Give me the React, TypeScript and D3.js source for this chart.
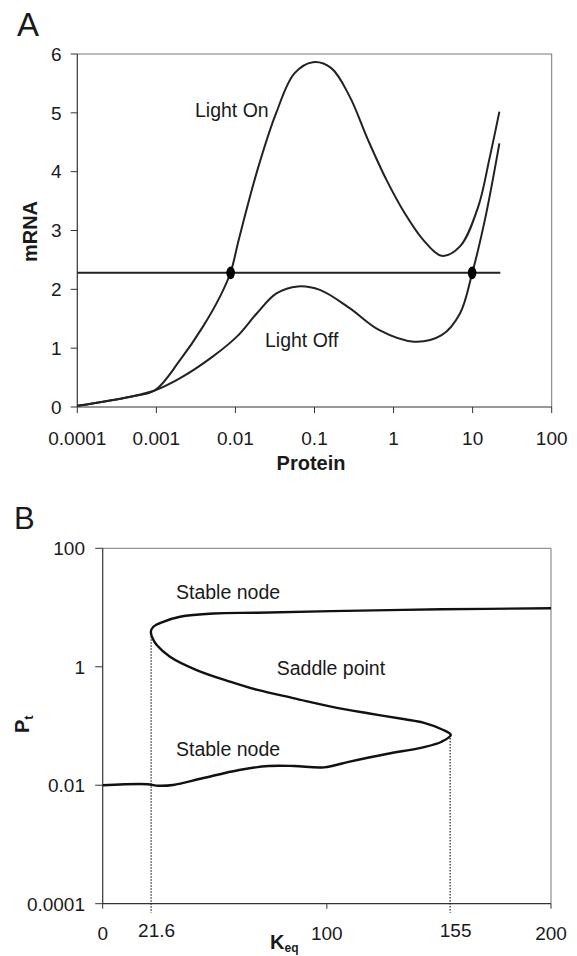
import * as d3 from 'd3'

// Panel A: mRNA vs protein nullclines (log x axis)
const sharedStart: [number, number][] = [
  [0.0001, 0.02],
  [0.00047, 0.175],
  [0.00095, 0.28],
]
const lightOn: [number, number][] = [
  ...sharedStart,
  [0.002, 0.8],
  [0.0039, 1.37],
  [0.0064, 1.88],
  [0.0087, 2.29],
  [0.011, 2.84],
  [0.019, 4.03],
  [0.0326, 4.99],
  [0.0557, 5.67],
  [0.0955, 5.86],
  [0.163, 5.76],
  [0.278, 5.28],
  [0.475, 4.54],
  [0.813, 3.86],
  [1.39, 3.29],
  [2.37, 2.84],
  [4.05, 2.57],
  [6.92, 2.73],
  [11.8, 3.41],
  [16.2, 4.2],
  [21.8, 5.02],
]
const lightOff: [number, number][] = [
  ...sharedStart,
  [0.002, 0.49],
  [0.0052, 0.86],
  [0.0105, 1.2],
  [0.0186, 1.59],
  [0.033, 1.93],
  [0.0617, 2.05],
  [0.117, 1.99],
  [0.278, 1.68],
  [0.653, 1.31],
  [1.82, 1.11],
  [4.05, 1.22],
  [6.92, 1.59],
  [9.85, 2.27],
  [14.6, 3.24],
  [21.8, 4.48],
]
const thresholdMrna = 2.28
const thresholdRange = [0.0001, 22.4]
const steadyStates = [0.0087, 9.85]
const proteinTicks = [0.0001, 0.001, 0.01, 0.1, 1, 10, 100]
const proteinTickLabels = ['0.0001', '0.001', '0.01', '0.1', '1', '10', '100']
const mrnaTicks = [0, 1, 2, 3, 4, 5, 6]

// Panel B: bifurcation diagram, Pt vs Keq (single path through both folds)
const bifurcation: [number, number][] = [
  [200, 9.7],
  [151.2, 9.33],
  [101.9, 8.71],
  [69.1, 8.18],
  [49.4, 7.94],
  [34.5, 7.0],
  [27, 5.75],
  [22.6, 4.74],
  [21.5, 3.9],
  [22.3, 3.0],
  [24.1, 2.33],
  [30, 1.48],
  [41.9, 0.88],
  [56.8, 0.56],
  [69.1, 0.406],
  [85.5, 0.293],
  [101.9, 0.212],
  [118.4, 0.164],
  [134.8, 0.13],
  [143, 0.114],
  [151.2, 0.088],
  [155.3, 0.0705],
  [151.2, 0.0543],
  [143, 0.0437],
  [126.6, 0.0337],
  [110.2, 0.0251],
  [98.7, 0.02],
  [85.5, 0.0211],
  [74, 0.0211],
  [60.9, 0.0181],
  [44.5, 0.0131],
  [31.4, 0.0101],
  [24.8, 0.0098],
  [19.9, 0.0104],
  [0, 0.01],
]
const foldPoints: [number, number][] = [
  [21.6, 3.67],
  [155, 0.0705],
]
const keqTicks = [0, 100, 200]
const keqLabelTicks = [21.6, 155]
const ptTicks = [100, 1, 0.01, 0.0001]
const ptTickLabels = ['100', '1', '0.01', '0.0001']

const FONT = "'Liberation Sans', Arial, Helvetica, sans-serif"
const INK = '#1a1a1a'

export default function App() {
  // A scales
  const xA = d3.scaleLog().domain([0.0001, 100]).range([77.3, 551.7])
  const yA = d3.scaleLinear().domain([0, 6]).range([407, 54])
  const lineA = d3
    .line<[number, number]>()
    .x(d => xA(d[0]))
    .y(d => yA(d[1]))
    .curve(d3.curveCatmullRom.alpha(0.5))

  // B scales
  const xB = d3.scaleLinear().domain([0, 200]).range([102.7, 551])
  const yB = d3.scaleLog().domain([0.0001, 100]).range([903.7, 548.3])
  const lineB = d3
    .line<[number, number]>()
    .x(d => xB(d[0]))
    .y(d => yB(d[1]))
    .curve(d3.curveCatmullRom.alpha(0.5))

  return (
    <div style={{ position: 'absolute', left: 0, top: 0 }}>
      <svg width={577} height={956} style={{ display: 'block', background: '#fff' }} fontFamily={FONT}>
        {/* ---------- Panel A ---------- */}
        <text x={17} y={36} fontSize={33} fill={INK}>A</text>

        {/* frame */}
        <line x1={xA(0.0001)} x2={xA(100)} y1={yA(6)} y2={yA(6)} stroke="#777" strokeWidth={1} />
        <line x1={xA(100)} x2={xA(100)} y1={yA(6)} y2={yA(0)} stroke="#777" strokeWidth={1} />
        <line x1={xA(0.0001)} x2={xA(0.0001)} y1={yA(6)} y2={yA(0)} stroke="#333" strokeWidth={1.2} />
        <line x1={xA(0.0001)} x2={xA(100)} y1={yA(0)} y2={yA(0)} stroke="#333" strokeWidth={1.2} />

        {mrnaTicks.map(t => (
          <g key={'ya' + t}>
            <line x1={xA(0.0001) - 6.6} x2={xA(0.0001)} y1={yA(t)} y2={yA(t)} stroke="#333" strokeWidth={1} />
            <text x={61.7} y={yA(t) + 6.8} fontSize={19} textAnchor="end" fill={INK}>{t}</text>
          </g>
        ))}
        {proteinTicks.map((t, i) => (
          <g key={'xa' + t}>
            <line x1={xA(t)} x2={xA(t)} y1={yA(0)} y2={yA(0) + 6} stroke="#333" strokeWidth={1} />
            <text x={xA(t)} y={444.8} fontSize={19} textAnchor="middle" fill={INK}>{proteinTickLabels[i]}</text>
          </g>
        ))}

        <text x={311} y={470} fontSize={20} fontWeight="bold" textAnchor="middle" fill={INK}>Protein</text>
        <text
          transform="translate(36.5,231.5) rotate(-90)"
          fontSize={20}
          fontWeight="bold"
          textAnchor="middle"
          fill={INK}
        >
          mRNA
        </text>

        <line
          x1={xA(thresholdRange[0])}
          x2={xA(thresholdRange[1])}
          y1={yA(thresholdMrna)}
          y2={yA(thresholdMrna)}
          stroke="#222"
          strokeWidth={2}
        />
        <path d={lineA(lightOn) ?? ''} fill="none" stroke="#222" strokeWidth={2} />
        <path d={lineA(lightOff) ?? ''} fill="none" stroke="#222" strokeWidth={2} />
        {steadyStates.map(p => (
          <ellipse key={'ss' + p} cx={xA(p)} cy={yA(thresholdMrna)} rx={4.3} ry={6.3} fill="#000" />
        ))}

        <text x={195} y={117} fontSize={19.5} fill={INK}>Light On</text>
        <text x={265} y={347} fontSize={19.5} fill={INK}>Light Off</text>

        {/* ---------- Panel B ---------- */}
        <text x={14} y={529} fontSize={31} fill={INK}>B</text>

        <line x1={xB(0)} x2={xB(200)} y1={yB(100)} y2={yB(100)} stroke="#777" strokeWidth={1} />
        <line x1={xB(200)} x2={xB(200)} y1={yB(100)} y2={yB(0.0001)} stroke="#777" strokeWidth={1} />
        <line x1={xB(0)} x2={xB(0)} y1={yB(100)} y2={yB(0.0001)} stroke="#333" strokeWidth={1.2} />
        <line x1={xB(0)} x2={xB(200)} y1={yB(0.0001)} y2={yB(0.0001)} stroke="#333" strokeWidth={1.2} />

        {ptTicks.map((t, i) => (
          <g key={'yb' + t}>
            <line x1={xB(0) - 7.5} x2={xB(0)} y1={yB(t)} y2={yB(t)} stroke="#333" strokeWidth={1} />
            <text x={85} y={yB(t) + 6.8} fontSize={19} textAnchor="end" fill={INK}>{ptTickLabels[i]}</text>
          </g>
        ))}
        {keqTicks.map(t => (
          <g key={'xb' + t}>
            <line x1={xB(t)} x2={xB(t)} y1={yB(0.0001)} y2={yB(0.0001) + 5} stroke="#333" strokeWidth={1} />
            <text x={xB(t)} y={940.3} fontSize={19} textAnchor="middle" fill={INK}>{t}</text>
          </g>
        ))}
        {keqLabelTicks.map(t => (
          <text key={'kl' + t} x={xB(t) + 5.5} y={937} fontSize={19} textAnchor="middle" fill={INK}>{t}</text>
        ))}

        {foldPoints.map(([k, p]) => (
          <line
            key={'fold' + k}
            x1={xB(k)}
            x2={xB(k)}
            y1={yB(p)}
            y2={yB(0.0001) + 9}
            stroke="#222"
            strokeWidth={1.2}
            strokeDasharray="1.5,1.5"
          />
        ))}

        <path d={lineB(bifurcation) ?? ''} fill="none" stroke="#111" strokeWidth={2.4} />

        <text x={176} y={598.5} fontSize={19.5} fill={INK}>Stable node</text>
        <text x={276.7} y={674.5} fontSize={19.5} fill={INK}>Saddle point</text>
        <text x={176} y={756} fontSize={19.5} fill={INK}>Stable node</text>

        <text x={270} y={948.5} fontSize={20} fontWeight="bold" fill={INK}>
          K<tspan fontSize={12} dy={3}>eq</tspan>
        </text>
        <text transform="translate(29,733) rotate(-90)" fontSize={20} fontWeight="bold" fill={INK}>
          P<tspan fontSize={13} dy={4}>t</tspan>
        </text>
      </svg>
    </div>
  )
}
